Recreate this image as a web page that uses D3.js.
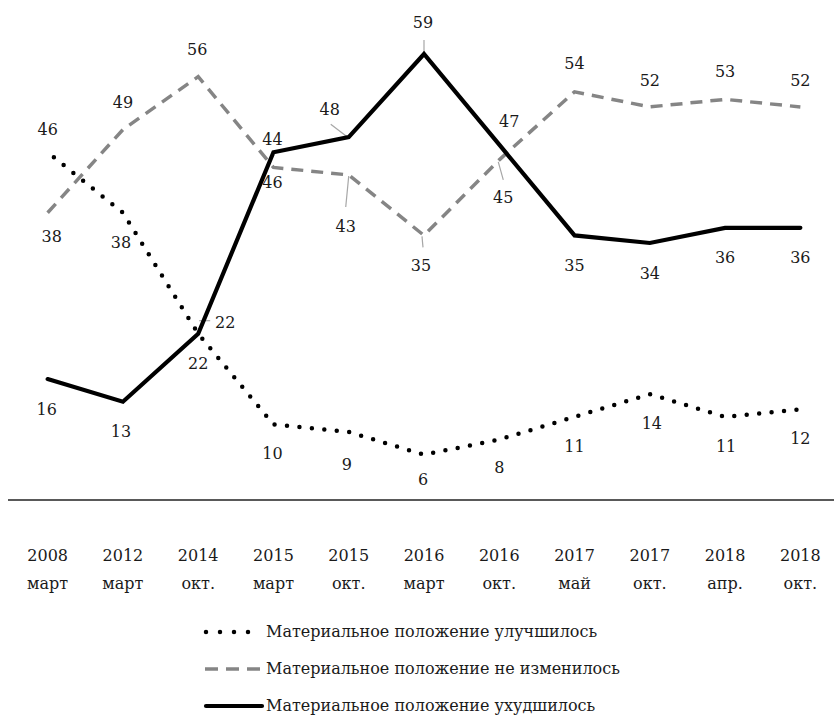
<!DOCTYPE html>
<html>
<head>
<meta charset="utf-8">
<script src="https://cdn.jsdelivr.net/npm/d3@7"></script>
<style>
  html, body { margin: 0; padding: 0; background: #fff; }
  svg text { font-family: "DejaVu Serif", serif; fill: #1a1a1a; }
</style>
</head>
<body>
<svg id="chart" width="834" height="720"></svg>
<script>
// ── Data ────────────────────────────────────────────────────────────────
const years  = ['2008', '2012', '2014', '2015', '2015', '2016', '2016', '2017', '2017', '2018', '2018'];
const months = ['март', 'март', 'окт.', 'март', 'окт.', 'март', 'окт.', 'май', 'окт.', 'апр.', 'окт.'];

// values as plotted
const improved  = [46, 38, 22, 10, 9, 6, 8, 11, 14, 11, 12];
const unchanged = [38, 49, 56, 44, 43, 35, 45, 54, 52, 53, 52];
const worsened  = [16, 13, 22, 46, 48, 59, 47, 35, 34, 36, 36];

// numbers as printed next to the points
const improvedText  = ['46', '38', '22', '10', '9', '6', '8', '11', '14', '11', '12'];
const unchangedText = ['38', '49', '56', '46', '43', '35', '45', '54', '52', '53', '52'];
const worsenedText  = ['16', '13', '22', '44', '48', '59', '47', '35', '34', '36', '36'];

const legendNames = [
  'Материальное положение улучшилось',
  'Материальное положение не изменилось',
  'Материальное положение ухудшилось'
];

// ── Layout ──────────────────────────────────────────────────────────────
const svg = d3.select('#chart');
const idx = d3.range(years.length);
const FS = 16;

const x = d3.scaleBand().domain(idx).range([10, 838]);
const cx = i => x(i) + x.bandwidth() / 2;
const y = d3.scaleLinear().domain([0, 59]).range([500, 54]);

// label offsets from the point [dx, dy]
const improvedOff  = [[0,-23],[-2,30],[0,30],[-1,29],[-2,32],[-1,25],[0,28],[0,30],[2,29],[1,30],[0,29]];
const unchangedOff = [[4,24],[0,-27],[-1,-27],[-1,15],[-3,51],[-3,30],[4,38],[0,-28],[0,-27],[0,-28],[0,-27]];
const worsenedOff  = [[-1,30],[-2,30],[27,-11],[-1,-13],[-19,-28],[-1,-32],[10,-23],[0,30],[0,30],[0,30],[0,30]];

// [series values, index, x1, y1, x2, y2] relative to point
const leaders = [
  [unchanged, 4, -3, 32, 0, 1],
  [unchanged, 5, -1, 12, -2, 1],
  [unchanged, 6, 4, 20, -1, 2],
  [worsened, 4, -18, -13, -1, 0],
  [worsened, 5, 0, -14, 0, -1],
  [worsened, 2, 1, -13, 12, -13]
];

const series = [
  { vals: improved,  text: improvedText,  off: improvedOff,  color: '#000', width: 4.5, dash: '0,12.5', cap: 'round' },
  { vals: unchanged, text: unchangedText, off: unchangedOff, color: '#858585', width: 3.5, dash: '12,8', cap: 'butt' },
  { vals: worsened,  text: worsenedText,  off: worsenedOff,  color: '#000', width: 4.2, dash: null, cap: 'round' }
];

// ── Axis line + tick labels ─────────────────────────────────────────────
svg.append('line')
  .attr('x1', 8).attr('x2', 834).attr('y1', y(0)).attr('y2', y(0))
  .attr('stroke', '#222').attr('stroke-width', 1.6);

const tickG = svg.append('g');
idx.forEach(i => {
  tickG.append('text').attr('x', cx(i)).attr('y', 561)
    .attr('text-anchor', 'middle').attr('font-size', FS).text(years[i]);
  tickG.append('text').attr('x', cx(i)).attr('y', 589)
    .attr('text-anchor', 'middle').attr('font-size', FS).text(months[i]);
});

// ── Leader lines ────────────────────────────────────────────────────────
leaders.forEach(([vals, i, x1, y1, x2, y2]) => {
  const px = cx(i), py = y(vals[i]);
  svg.append('line')
    .attr('x1', px + x1).attr('y1', py + y1).attr('x2', px + x2).attr('y2', py + y2)
    .attr('stroke', '#a6a6a6').attr('stroke-width', 1.2);
});

// ── Lines ───────────────────────────────────────────────────────────────
const line = d3.line().x((d, i) => cx(i)).y(d => y(d));

series.forEach((s, k) => {
  const p = svg.append('path').datum(s.vals)
    .attr('fill', 'none').attr('stroke', s.color)
    .attr('stroke-width', s.width).attr('stroke-linecap', s.cap)
    .attr('stroke-linejoin', 'miter').attr('d', line);
  if (s.dash) p.attr('stroke-dasharray', s.dash);
  if (k === 0) p.attr('stroke-dashoffset', -8);
});

// ── Value labels ────────────────────────────────────────────────────────
series.forEach(s => {
  s.vals.forEach((v, i) => {
    svg.append('text')
      .attr('x', cx(i) + s.off[i][0]).attr('y', y(v) + s.off[i][1])
      .attr('dy', '0.35em').attr('text-anchor', 'middle')
      .attr('font-size', FS).text(s.text[i]);
  });
});

// ── Legend ──────────────────────────────────────────────────────────────
const legY = [632, 669, 706];
series.forEach((s, k) => {
  const g = svg.append('g').attr('transform', `translate(0,${legY[k]})`);
  const l = g.append('line').attr('x1', 206).attr('x2', 262)
    .attr('y1', 0).attr('y2', 0)
    .attr('stroke', s.color).attr('stroke-width', s.width)
    .attr('stroke-linecap', s.cap);
  if (k === 0) l.attr('stroke-dasharray', '0,14');
  if (k === 1) l.attr('stroke-dasharray', '13,8').attr('x1', 205);
  g.append('text').attr('x', 266).attr('y', 0).attr('dy', '0.33em')
    .attr('font-size', FS).text(legendNames[k]);
});
</script>
</body>
</html>
